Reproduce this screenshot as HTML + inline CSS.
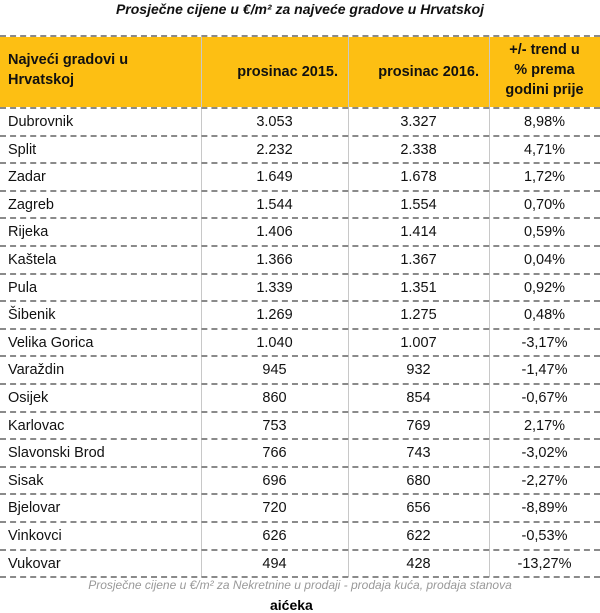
<!DOCTYPE html>
<html><head><meta charset="utf-8"><style>
body{margin:0;width:600px;height:600px;background:#fff;overflow:hidden;font-family:"Liberation Sans",sans-serif;position:relative}
.title{position:absolute;top:1px;left:0;width:600px;text-align:center;font-size:14px;font-style:italic;font-weight:bold;color:#111}
.hdr{position:absolute;top:37px;left:0;width:600px;height:70px;background:#fdbf13}
.hl{position:absolute;left:0;width:600px;height:0;border-top:2px dashed #8a8a8a}
.vl{position:absolute;width:1px;background:#c8c8c8}
.c{position:absolute;font-size:14.5px;color:#111;white-space:nowrap}
.h{position:absolute;font-size:14.5px;font-weight:bold;color:#111;line-height:20px}
.foot{position:absolute;top:578px;left:0;width:600px;text-align:center;font-size:12px;font-style:italic;color:#999}
</style></head><body>
<div class="title">Prosječne cijene u €/m² za najveće gradove u Hrvatskoj</div>
<div class="hdr"></div>
<div class="vl" style="left:201px;top:37px;height:540px"></div>
<div class="vl" style="left:348px;top:37px;height:540px"></div>
<div class="vl" style="left:489px;top:37px;height:540px"></div>
<div class="h" style="left:8px;top:50px">Najveći gradovi u<br>Hrvatskoj</div>
<div class="h" style="left:201px;width:147px;text-align:right;top:62px"><span style="margin-right:10px">prosinac 2015.</span></div>
<div class="h" style="left:348px;width:141px;text-align:right;top:62px"><span style="margin-right:10px">prosinac 2016.</span></div>
<div class="h" style="left:489px;width:111px;text-align:center;top:40px">+/- trend u<br>% prema<br>godini prije</div>
<div id="rows"></div>
<div class="foot">Prosječne cijene u €/m² za Nekretnine u prodaji - prodaja kuća, prodaja stanova</div>
<div style="position:absolute;top:597px;left:270px;font-size:14px;font-weight:bold">aićeka</div>
<script>
var d=[["Dubrovnik","3.053","3.327","8,98%"],["Split","2.232","2.338","4,71%"],["Zadar","1.649","1.678","1,72%"],["Zagreb","1.544","1.554","0,70%"],["Rijeka","1.406","1.414","0,59%"],["Kaštela","1.366","1.367","0,04%"],["Pula","1.339","1.351","0,92%"],["Šibenik","1.269","1.275","0,48%"],["Velika Gorica","1.040","1.007","-3,17%"],["Varaždin","945","932","-1,47%"],["Osijek","860","854","-0,67%"],["Karlovac","753","769","2,17%"],["Slavonski Brod","766","743","-3,02%"],["Sisak","696","680","-2,27%"],["Bjelovar","720","656","-8,89%"],["Vinkovci","626","622","-0,53%"],["Vukovar","494","428","-13,27%"]];
var h='<div class="hl" style="top:35px"></div>';
for(var i=0;i<d.length;i++){var t=107+i*27.6;
h+='<div class="hl" style="top:'+t+'px"></div>';
var y=t+7;
h+='<div class="c" style="left:8px;top:'+y+'px">'+d[i][0]+'</div>';
h+='<div class="c" style="left:201px;width:147px;text-align:center;top:'+y+'px">'+d[i][1]+'</div>';
h+='<div class="c" style="left:348px;width:141px;text-align:center;top:'+y+'px">'+d[i][2]+'</div>';
h+='<div class="c" style="left:489px;width:111px;text-align:center;top:'+y+'px">'+d[i][3]+'</div>';}
h+='<div class="hl" style="top:'+(107+17*27.6)+'px"></div>';
document.getElementById('rows').innerHTML=h;
</script>
</body></html>
